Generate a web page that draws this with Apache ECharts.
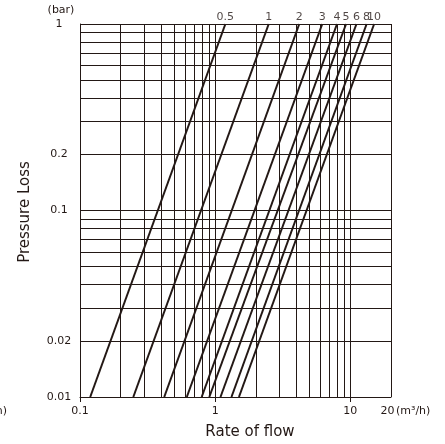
<!DOCTYPE html>
<html>
<head>
<meta charset="utf-8">
<script src="https://cdn.jsdelivr.net/npm/echarts@6/dist/echarts.min.js"></script>
<style>
html,body{margin:0;padding:0;background:#fff;}
#chart{width:445px;height:444px;}
</style>
</head>
<body>
<div id="chart"></div>
<script>
// ---- data ----
const lineLabels = ['0.5', '1', '2', '3', '4', '5', '6', '8', '10'];
// flow (m3/h) where each line crosses 1 bar (top) and 0.01 bar (bottom)
const flowAtTop    = [1.19, 2.49, 4.19, 6.2, 7.97, 9.3, 11.1, 13.2, 15.0];
const flowAtBottom = [0.119, 0.248, 0.42, 0.617, 0.795, 0.905, 1.095, 1.32, 1.50];
const pressureTop = 1;
const pressureBottom = 0.01;

const xTickLabels = [0.1, 1, 10, 20];
const xTickMarks = [0.1, 1, 10];
const yTickLabels = [0.01, 0.02, 0.1, 0.2, 1];
const xGridValues = [0.2, 0.3, 0.4, 0.5, 0.6, 0.7, 0.8, 0.9, 1, 2, 3, 4, 5, 6, 7, 8, 9, 10, 20];
const yGridValues = [0.02, 0.03, 0.04, 0.05, 0.06, 0.07, 0.08, 0.09, 0.1, 0.2, 0.3, 0.4, 0.5, 0.6, 0.7, 0.8, 0.9, 1];

const INK = '#231815';
const FONT = 'DejaVu Sans';
const fmt = v => String(parseFloat(Number(v).toPrecision(4)));
const xMax = 20;

const chart = echarts.init(document.getElementById('chart'), null, {renderer: 'canvas'});

const series = [];
// grid lines via markLine
series.push({
  type: 'line',
  name: 'grid',
  data: [[1, 0.1]],
  symbol: 'none',
  lineStyle: {opacity: 0},
  silent: true,
  animation: false,
  markLine: {
    silent: true,
    animation: false,
    symbol: ['none', 'none'],
    label: {show: false},
    lineStyle: {color: INK, width: 1, type: 'solid'},
    emphasis: {disabled: true},
    data: xGridValues.map(v => ({xAxis: v})).concat(yGridValues.map(v => ({yAxis: v})))
  }
});
lineLabels.forEach((name, i) => {
  series.push({
    type: 'line',
    name: name,
    data: [[flowAtBottom[i], pressureBottom], [flowAtTop[i], pressureTop]],
    symbol: 'none',
    lineStyle: {color: INK, width: 2},
    animation: false,
    silent: true
  });
});
// top labels of each line
series.push({
  type: 'scatter',
  name: 'labels',
  data: lineLabels.map((n, i) => [flowAtTop[i], pressureTop, n]),
  symbolSize: 1,
  itemStyle: {color: 'rgba(0,0,0,0)'},
  silent: true,
  animation: false,
  label: {
    show: true,
    position: 'top',
    distance: 1,
    formatter: p => p.data[2],
    color: INK,
    fontFamily: FONT,
    fontSize: 11
  }
});

chart.setOption({
  backgroundColor: '#fff',
  animation: false,
  grid: {left: 80, right: 54, top: 24, bottom: 47, containLabel: false},
  xAxis: {
    type: 'log',
    logBase: 10,
    min: 0.1,
    max: xMax,
    axisLine: {show: true, lineStyle: {color: INK, width: 1}},
    axisTick: {show: true, length: 5, lineStyle: {color: INK, width: 1}, customValues: xTickMarks},
    axisLabel: {
      show: true, color: INK, fontFamily: FONT, fontSize: 11, margin: 9,
      customValues: xTickLabels,
      formatter: v => (Math.abs(v - xMax) < 1e-6 ? '{s|' + fmt(v) + '}' : fmt(v)),
      rich: {s: {color: INK, fontFamily: FONT, fontSize: 11, padding: [0, 7, 0, 0]}}
    },
    splitLine: {show: false},
    minorTick: {show: false},
    minorSplitLine: {show: false}
  },
  yAxis: {
    type: 'log',
    logBase: 10,
    min: 0.01,
    max: 1,
    axisLine: {show: true, lineStyle: {color: INK, width: 1}},
    axisTick: {show: false},
    axisLabel: {show: true, color: INK, fontFamily: FONT, fontSize: 11, margin: 21, align: 'center', customValues: yTickLabels, formatter: fmt},
    splitLine: {show: false}
  },
  graphic: [
    {type: 'text', x: 61, y: 10, style: {text: '(bar)', fill: INK, font: '11px "DejaVu Sans"', align: 'center', verticalAlign: 'middle'}},
    {type: 'text', x: 396, y: 411, style: {text: '(m³/h)', fill: INK, font: '11px "DejaVu Sans"', align: 'left', verticalAlign: 'middle'}},
    {type: 'text', x: 250, y: 432, style: {text: 'Rate of flow', fill: INK, font: '15px "DejaVu Sans"', align: 'center', verticalAlign: 'middle'}},
    {type: 'text', x: 25, y: 212, rotation: Math.PI / 2, style: {text: 'Pressure Loss', fill: INK, font: '15px "DejaVu Sans"', align: 'center', verticalAlign: 'middle'}},
    {type: 'text', x: 7, y: 411, style: {text: '(m³/h)', fill: INK, font: '11px "DejaVu Sans"', align: 'right', verticalAlign: 'middle'}}
  ],
  series: series
});
</script>
</body>
</html>
